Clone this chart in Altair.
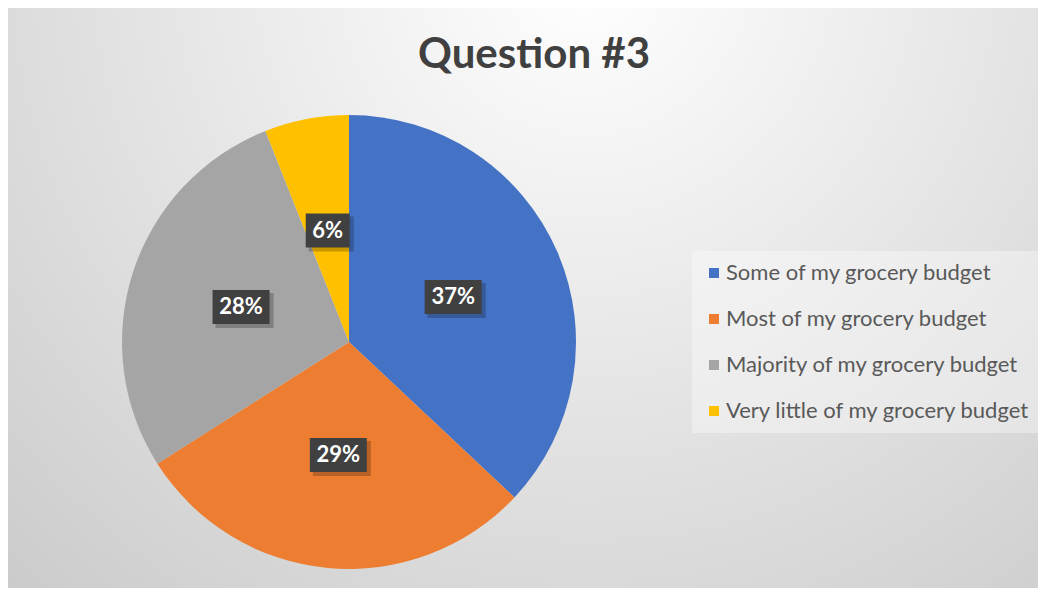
import altair as alt
import pandas as pd

# ---- data ----
categories = ["Some of my grocery budget", "Most of my grocery budget",
              "Majority of my grocery budget", "Very little of my grocery budget"]
values = [37, 29, 28, 6]
colors = ["#4472C4", "#ED7D31", "#A5A5A5", "#FFC000"]
title_text = "Question #3"

df = pd.DataFrame({"category": categories, "value": values, "order": list(range(len(values)))})

# ---- layout (pixels in chart coordinates) ----
W, H = 1030, 580
CX, CY, R = 341, 334, 227

xs = alt.Scale(domain=[0, W], nice=False, zero=False)
ys = alt.Scale(domain=[0, H], nice=False, zero=False, reverse=True)

bg = alt.Chart(alt.Data(values=[{"a": 1}])).mark_rect(
    color={"gradient": "radial",
           "x1": 0.56, "y1": 0.18, "r1": 0,
           "x2": 0.56, "y2": 0.18, "r2": 0.9,
           "stops": [{"offset": 0, "color": "#ffffff"},
                     {"offset": 1, "color": "#c6c6c6"}]}
).encode(x=alt.value(0), x2=alt.value(W), y=alt.value(0), y2=alt.value(H))

title = alt.Chart(alt.Data(values=[{"t": title_text}])).mark_text(
    font="Lato", fontSize=42, fontWeight="bold", color="#404040",
    align="center", baseline="middle"
).encode(text="t:N", x=alt.value(526), y=alt.value(47))

base = alt.Chart(df)

pie = base.mark_arc(outerRadius=R, stroke=None).encode(
    theta=alt.Theta("value:Q", stack=True),
    order=alt.Order("order:Q"),
    color=alt.Color("category:N",
                    scale=alt.Scale(domain=categories, range=colors),
                    sort=categories,
                    legend=alt.Legend(
                        title=None, orient="none", legendX=684, legendY=243,
                        direction="vertical",
                        symbolType="square", symbolSize=100, symbolStrokeWidth=0,
                        labelFont="Lato", labelFontSize=22, labelColor="#595959",
                        labelLimit=0,
                        labelOffset=1, rowPadding=24, padding=11,
                        fillColor="rgba(255,255,255,0.35)")),
    x=alt.value(CX), y=alt.value(CY),
)

lab = base.transform_window(
    cum="sum(value)", sort=[alt.SortField("order")], frame=[None, 0]
).transform_joinaggregate(
    total="sum(value)"
).transform_calculate(
    mid="(datum.cum - datum.value/2) / datum.total * 2 * PI",
    label="format(datum.value / datum.total, '.0%')",
).transform_calculate(
    lx=f"{CX} + {R * 0.5} * sin(datum.mid)",
    ly=f"{CY} - {R * 0.5} * cos(datum.mid)",
    hw="(length(datum.label) * 13 + 18) / 2",
).transform_calculate(
    x1="datum.lx - datum.hw", x2="datum.lx + datum.hw",
    y1="datum.ly - 17", y2="datum.ly + 17",
    sx1="datum.lx - datum.hw + 3", sx2="datum.lx + datum.hw + 4",
    sy1="datum.ly - 14", sy2="datum.ly + 21",
)

shadow = lab.mark_rect(color="#000000", opacity=0.22).encode(
    x=alt.X("sx1:Q", scale=xs, axis=None), x2="sx2:Q",
    y=alt.Y("sy1:Q", scale=ys, axis=None), y2="sy2:Q",
)
box = lab.mark_rect(color="#404040").encode(
    x=alt.X("x1:Q", scale=xs, axis=None), x2="x2:Q",
    y=alt.Y("y1:Q", scale=ys, axis=None), y2="y2:Q",
)
txt = lab.mark_text(font="Lato", fontSize=22, fontWeight="bold", color="#ffffff",
                    align="center", baseline="middle").encode(
    x=alt.X("lx:Q", scale=xs, axis=None),
    y=alt.Y("ly:Q", scale=ys, axis=None),
    text="label:N",
)

chart = alt.layer(bg, title, pie, shadow, box, txt).properties(
    width=W, height=H, padding=0, autosize="none"
).configure_view(stroke=None)

chart.save("out.html", embed_options={"renderer": "svg", "actions": False})
